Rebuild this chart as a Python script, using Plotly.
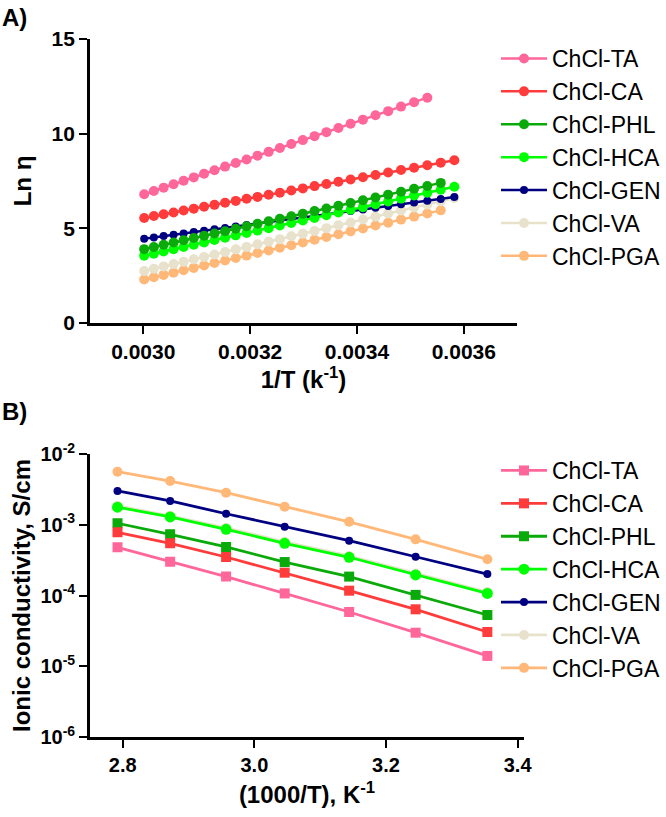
import math
import plotly.graph_objects as go

W, H = 666, 817

# ---------------- Panel A data: Ln(viscosity) vs 1/T ----------------
inv_T = [0.0030017, 0.0030198, 0.0030381, 0.0030567, 0.0030755, 0.0030945, 0.0031138,
         0.0031333, 0.0031531, 0.0031731, 0.0031934, 0.0032139, 0.0032347, 0.0032557,
         0.0032771, 0.0032987, 0.0033206, 0.0033428, 0.0033653, 0.0033881, 0.0034112,
         0.0034347, 0.0034584, 0.0034825, 0.0035069, 0.0035317, 0.0035568, 0.0035823]

ln_TA = [6.80, 6.97, 7.15, 7.33, 7.51, 7.69, 7.88, 8.07, 8.26, 8.45, 8.64, 8.84, 9.04,
         9.24, 9.45, 9.66, 9.87, 10.08, 10.30, 10.52, 10.74, 10.97, 11.19, 11.43, 11.66, 11.90]
ln_CA = [5.55, 5.65, 5.74, 5.84, 5.94, 6.04, 6.14, 6.24, 6.35, 6.45, 6.56, 6.66, 6.77, 6.88,
         7.00, 7.11, 7.23, 7.34, 7.46, 7.58, 7.70, 7.82, 7.95, 8.08, 8.20, 8.33, 8.47, 8.60]
ln_PHL = [3.90, 4.01, 4.13, 4.25, 4.37, 4.49, 4.61, 4.73, 4.85, 4.98, 5.11, 5.24, 5.37, 5.50,
          5.64, 5.77, 5.91, 6.05, 6.19, 6.34, 6.48, 6.63, 6.78, 6.93, 7.09, 7.24, 7.40]
ln_HCA = [3.55, 3.66, 3.78, 3.90, 4.01, 4.13, 4.25, 4.38, 4.50, 4.63, 4.76, 4.88, 5.01, 5.15,
          5.28, 5.42, 5.55, 5.69, 5.84, 5.98, 6.12, 6.27, 6.42, 6.57, 6.73, 6.88, 7.04, 7.20]
ln_GEN = [4.45, 4.52, 4.59, 4.66, 4.73, 4.80, 4.87, 4.95, 5.02, 5.10, 5.18, 5.25, 5.33, 5.41,
          5.49, 5.58, 5.66, 5.74, 5.83, 5.91, 6.00, 6.09, 6.18, 6.27, 6.36, 6.46, 6.55, 6.65]
ln_VA = [2.75, 2.87, 2.99, 3.11, 3.24, 3.37, 3.49, 3.62, 3.75, 3.89, 4.02, 4.16, 4.30, 4.43,
         4.58, 4.72, 4.86, 5.01, 5.16, 5.31, 5.47, 5.62, 5.78, 5.94, 6.10, 6.26, 6.43, 6.60]
ln_PGA = [2.30, 2.42, 2.54, 2.66, 2.79, 2.91, 3.04, 3.17, 3.30, 3.43, 3.56, 3.70, 3.83, 3.97,
          4.11, 4.25, 4.40, 4.54, 4.69, 4.84, 4.99, 5.15, 5.30, 5.46, 5.62, 5.78, 5.95]

# ---------------- Panel B data: ionic conductivity vs 1000/T ----------------
k_T = [2.792, 2.872, 2.957, 3.046, 3.144, 3.245, 3.354]
s_TA = [4.80e-4, 3.01e-4, 1.85e-4, 1.07e-4, 5.85e-5, 2.98e-5, 1.40e-5]
s_CA = [7.82e-4, 5.47e-4, 3.50e-4, 2.10e-4, 1.17e-4, 6.38e-5, 3.05e-5]
s_PHL = [1.05e-3, 7.33e-4, 4.85e-4, 2.97e-4, 1.85e-4, 1.02e-4, 5.30e-5]
s_HCA = [1.77e-3, 1.29e-3, 8.63e-4, 5.47e-4, 3.47e-4, 1.95e-4, 1.07e-4]
s_GEN = [3.00e-3, 2.17e-3, 1.43e-3, 9.37e-4, 5.96e-4, 3.53e-4, 2.01e-4]
s_VA = [1.85e-3, 1.34e-3, 9.00e-4, 5.75e-4, 3.62e-4, 2.05e-4, 1.12e-4]
s_PGA = [5.62e-3, 4.15e-3, 2.84e-3, 1.80e-3, 1.10e-3, 6.22e-4, 3.25e-4]

names = ["ChCl-TA", "ChCl-CA", "ChCl-PHL", "ChCl-HCA", "ChCl-GEN", "ChCl-VA", "ChCl-PGA"]
colors = ["#FF6699", "#FF3B3B", "#0AAA0A", "#00FF00", "#000080", "#E8E2CC", "#FFB878"]
ln_series = [ln_TA, ln_CA, ln_PHL, ln_HCA, ln_GEN, ln_VA, ln_PGA]
s_series = [s_TA, s_CA, s_PHL, s_HCA, s_GEN, s_VA, s_PGA]
msize_A = [10, 10, 10, 10, 8, 10, 10]
msize_B = [10, 10, 10, 11, 8, 10, 10]
symB = ["square", "square", "square", "circle", "circle", "circle", "circle"]

# minor tick positions of the log axis (2..9 x each decade)
minor_vals = [m * 10.0 ** e for e in range(-6, -2) for m in range(2, 10)]

FONT = "Liberation Sans, Arial, sans-serif"

fig = go.Figure()

# draw in reverse order so TA ends up on top (as in the reference)
for i in reversed(range(len(names))):
    fig.add_trace(go.Scatter(
        x=inv_T[:len(ln_series[i])], y=ln_series[i], name=names[i],
        mode="lines+markers", xaxis="x", yaxis="y", legend="legend",
        legendgroup="A" + names[i], legendrank=i + 1,
        line=dict(color=colors[i], width=2.5),
        marker=dict(color=colors[i], size=msize_A[i], symbol="circle"),
    ))

for i in reversed(range(len(names))):
    fig.add_trace(go.Scatter(
        x=k_T, y=s_series[i], name=names[i],
        mode="lines+markers", xaxis="x2", yaxis="y2", legend="legend2",
        legendgroup="B" + names[i], legendrank=i + 1,
        line=dict(color=colors[i], width=2.8),
        marker=dict(color=colors[i], size=msize_B[i], symbol=symB[i]),
    ))

def px(x):
    return x / W

def py(y):
    return 1 - y / H

def axis_common(size):
    return dict(
        showline=True, linecolor="black", linewidth=2.5, mirror=False,
        ticks="outside", ticklen=8, tickwidth=2.2, tickcolor="black",
        showgrid=False, zeroline=False, automargin=False,
        tickfont=dict(family=FONT, size=size, color="black", weight="bold"),
    )

TITLE_FONT = dict(family=FONT, size=24, color="black", weight="bold")
LEG_FONT = dict(family=FONT, size=23, color="black")

# minor ticks of the log axis, as short lines just left of the axis line
minor_shapes = [
    dict(type="line", xref="x2 domain", yref="y2",
         x0=-0.013, x1=0.0, y0=math.log10(v), y1=math.log10(v),
         line=dict(color="black", width=1.8), layer="above")
    for v in minor_vals
]

fig.update_layout(
    template="none",
    width=W, height=H,
    margin=dict(l=0, r=0, t=0, b=0, pad=0),
    paper_bgcolor="white", plot_bgcolor="white",
    font=dict(family=FONT, color="black"),
    showlegend=True,
    xaxis=dict(domain=[px(90), px(518)], anchor="y", range=[0.0029, 0.0037],
               tickvals=[0.0030, 0.0032, 0.0034, 0.0036],
               ticktext=["0.0030", "0.0032", "0.0034", "0.0036"],
               title=dict(text="1/T (k<sup>-1</sup>)", standoff=6, font=TITLE_FONT),
               **axis_common(21)),
    yaxis=dict(domain=[py(323), py(39)], anchor="x", range=[0, 15],
               tickvals=[0, 5, 10, 15],
               title=dict(text="Ln η", standoff=14, font=TITLE_FONT),
               **axis_common(21)),
    xaxis2=dict(domain=[px(90), px(525)], anchor="y2", range=[2.75, 3.41],
                tickvals=[2.8, 3.0, 3.2, 3.4],
                ticktext=["2.8", "3.0", "3.2", "3.4"],
                title=dict(text="(1000/T), K<sup>-1</sup>", standoff=12, font=TITLE_FONT),
                **axis_common(20)),
    yaxis2=dict(domain=[py(737), py(454)], anchor="x2", type="log", range=[-6, -2],
                tickvals=[1e-6, 1e-5, 1e-4, 1e-3, 1e-2],
                ticktext=["10<sup>-6</sup>", "10<sup>-5</sup>", "10<sup>-4</sup>",
                          "10<sup>-3</sup>", "10<sup>-2</sup>"],
                title=dict(text="Ionic conductivity, S/cm", standoff=4, font=TITLE_FONT),
                **axis_common(20)),
    shapes=minor_shapes,
    legend=dict(x=px(497), y=py(37), xanchor="left", yanchor="top",
                traceorder="grouped", tracegroupgap=0,
                font=LEG_FONT, bgcolor="rgba(0,0,0,0)", itemwidth=46),
    legend2=dict(x=px(497), y=py(449), xanchor="left", yanchor="top",
                 traceorder="grouped", tracegroupgap=0,
                 font=LEG_FONT, bgcolor="rgba(0,0,0,0)", itemwidth=46),
    annotations=[
        dict(text="<b>A)</b>", x=0, y=1 - 2 / H, xref="paper", yref="paper",
             xanchor="left", yanchor="top", showarrow=False,
             font=dict(family=FONT, size=24, color="black")),
        dict(text="<b>B)</b>", x=0, y=1 - 396 / H, xref="paper", yref="paper",
             xanchor="left", yanchor="top", showarrow=False,
             font=dict(family=FONT, size=24, color="black")),
    ],
)

fig.write_html("out.html", config={"displayModeBar": False},
               post_script="document.body.style.margin='0';document.body.style.overflow='hidden';")
